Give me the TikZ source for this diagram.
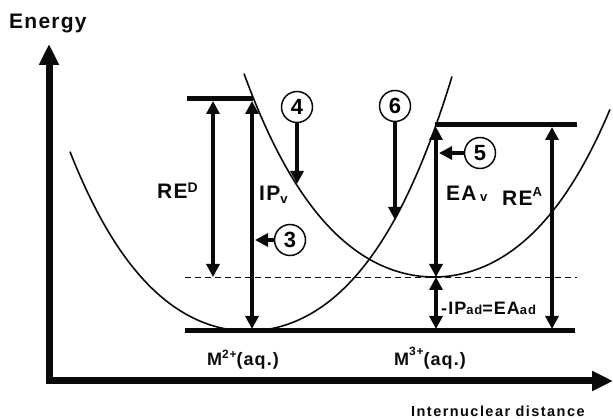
\documentclass[tikz,border=0pt]{standalone}
\usepackage{fontspec}
\setmainfont{Liberation Sans}[LetterSpace=6]
\usetikzlibrary{arrows.meta,positioning}
\definecolor{tinta}{RGB}{10,10,10}
\tikzset{
  eje/.style={line width=7pt, tinta, line cap=rect, -{Triangle[length=21pt,width=19pt]}},
  nivel/.style={line width=5pt, tinta},
  pozo/.style={line width=1.6pt, tinta},
  refl/.style={line width=0.9pt, tinta, dash pattern=on 6pt off 4pt},
  tr/.style={line width=4.5pt, tinta, {Triangle[length=13pt,width=13pt]}-{Triangle[length=13pt,width=13pt]}},
  fl/.style={line width=4.5pt, tinta, -{Triangle[length=13pt,width=13pt]}},
  num/.style={circle, draw=tinta, line width=1.5pt, minimum size=31pt, inner sep=0pt, font=\bfseries\fontsize{22}{22}\selectfont},
  et/.style={font=\bfseries\fontsize{21}{21}\selectfont, text=tinta, inner sep=0pt, anchor=base west},
  ets/.style={font=\bfseries\fontsize{18}{18}\selectfont, text=tinta, inner sep=0pt, anchor=base west},
  declare function={hl(\u)=42*\u*\u+4.6*\u*\u*\u*\u; hr(\u)=40.7*\u*\u+4.33*\u*\u*\u*\u;},
}

\begin{document}
\begin{tikzpicture}[x=1pt,y=-1pt]
  \useasboundingbox (0,0) rectangle (613,419);
  % axes
  \coordinate (O) at (49,381);
  \coordinate (ytop) at (49,44);
  \coordinate (xend) at (613,381);
  \draw[eje] (O) -- (ytop);
  \draw[eje] (O) -- (xend);
  \node[et] (energia) at (9,29) {Energy};
  \node[font=\bfseries\fontsize{14.5}{15}\selectfont\addfontfeatures{LetterSpace=10}, text=tinta, inner sep=0pt, anchor=base west] (dist) at (411,416) {Internuclear distance};
  % potential wells
  \draw[pozo] plot[domain=70:452, samples=90, smooth] (\x, {331-hl((\x-248)/100)});
  \draw[pozo] plot[domain=244:610, samples=90, smooth] (\x, {277-hr((\x-434)/100)});
  % levels
  \draw[refl] (185,277) -- (577,277);
  \draw[nivel] (185,331) -- (575,331);
  \draw[nivel] (187,99) -- (253,99);
  \draw[nivel] (435,125) -- (577,125);
  % vertical transitions
  \coordinate (dA) at (213,101); \coordinate (dB) at (213,277);
  \coordinate (iA) at (252,101); \coordinate (iB) at (252,329);
  \coordinate (eA) at (436,127); \coordinate (eB) at (436,277); \coordinate (eC) at (436,329);
  \coordinate (aA) at (552,127); \coordinate (aB) at (552,329);
  \draw[tr, line width=3.8pt] (dA) -- (dB);
  \draw[tr] (iA) -- (iB);
  \draw[tr] (eA) -- (eB);
  \draw[tr] (eB) -- (eC);
  \draw[tr] (aA) -- (aB);
  % numbered steps
  \node[num] (c4) at (297,107) {4}; \coordinate (t4) at (297,184);
  \node[num] (c6) at (395,106) {6}; \coordinate (t6) at (395,220);
  \node[num] (c5) at (480,153) {5}; \coordinate (t5) at (439,153);
  \node[num] (c3) at (290,240) {3}; \coordinate (t3) at (255,240);
  \draw[fl] (c4) -- (t4); \draw[fl] (c6) -- (t6);
  \draw[fl] (c5) -- (t5); \draw[fl] (c3) -- (t3);
  % labels
  \node[et] (reD) at (157,199) {RE\raisebox{6pt}{\fontsize{14}{14}\selectfont D}};
  \node[et] (ipv) at (259,201) {IP\raisebox{-3pt}{\fontsize{13}{13}\selectfont v}};
  \node[et] (eav) at (446,201) {EA\,\raisebox{-1pt}{\fontsize{13}{13}\selectfont v}};
  \node[et] (reA) at (502,206) {RE\raisebox{9pt}{\fontsize{13}{13}\selectfont A}};
  \node[ets] (ipad) at (441,315) {-IP{\fontsize{13}{13}\selectfont ad}=EA{\fontsize{13}{13}\selectfont ad}};
  \node[ets] (m2) at (207,366) {M\raisebox{7pt}{\fontsize{12}{12}\selectfont 2+}(aq.)};
  \node[ets] (m3) at (394,366) {M\raisebox{10pt}{\fontsize{12}{12}\selectfont 3+}(aq.)};
\end{tikzpicture}
\end{document}
